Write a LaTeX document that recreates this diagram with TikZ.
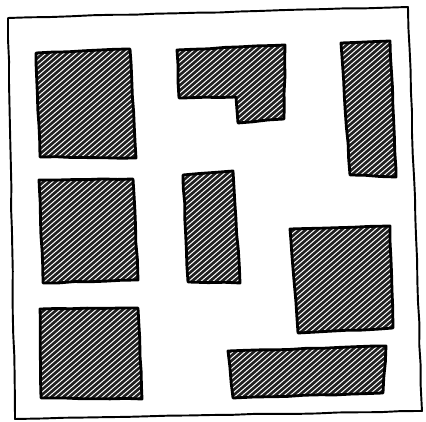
\documentclass[tikz,border=0pt]{standalone}
\usetikzlibrary{decorations.pathmorphing}

\tikzset{
  frameline/.style={line width=1.1pt,line join=round,
    decorate,decoration={random steps,segment length=12pt,amplitude=0.25pt}},
  blockedge/.style={line width=1.6pt,line join=round,
    decorate,decoration={random steps,segment length=9pt,amplitude=0.25pt}},
  blockfill/.style={fill=black!88},
  hatchline/.style={white,line width=0.55pt}
}

% one hatched block: fill, white strokes, then the inked outline
\newcommand\hatchblock[1]{%
  \begin{scope}
    \clip #1 -- cycle;
    \fill[blockfill] #1 -- cycle;
    \foreach \k in {-500,-494,...,430}
      \draw[hatchline] (\k,430) -- ++(500,-430);
  \end{scope}
  \draw[blockedge] #1 -- cycle;
}

\begin{document}
\begin{tikzpicture}[x=0.02cm,y=-0.02cm]
  \pgfmathsetseed{7}
  \useasboundingbox (0,0) rectangle (426,422);
  % frame
  \draw[frameline] (8,18) -- (408,7) -- (422,411) -- (15,419) -- cycle;
  % top row
  \hatchblock{(36,53) -- (130,49) -- (136,158) -- (40,157)}
  \hatchblock{(177,50) -- (285,45) -- (284,119) -- (238,123) -- (236,97) -- (179,98)}
  \hatchblock{(341,43) -- (390,41) -- (396,177) -- (350,175)}
  % middle row
  \hatchblock{(39,180) -- (133,179) -- (138,280) -- (43,283)}
  \hatchblock{(183,175) -- (233,171) -- (240,283) -- (188,282)}
  \hatchblock{(290,229) -- (390,226) -- (393,328) -- (298,333)}
  % bottom row
  \hatchblock{(40,309) -- (138,308) -- (142,399) -- (41,398)}
  \hatchblock{(228,351) -- (386,346) -- (383,393) -- (233,398)}
\end{tikzpicture}
\end{document}
